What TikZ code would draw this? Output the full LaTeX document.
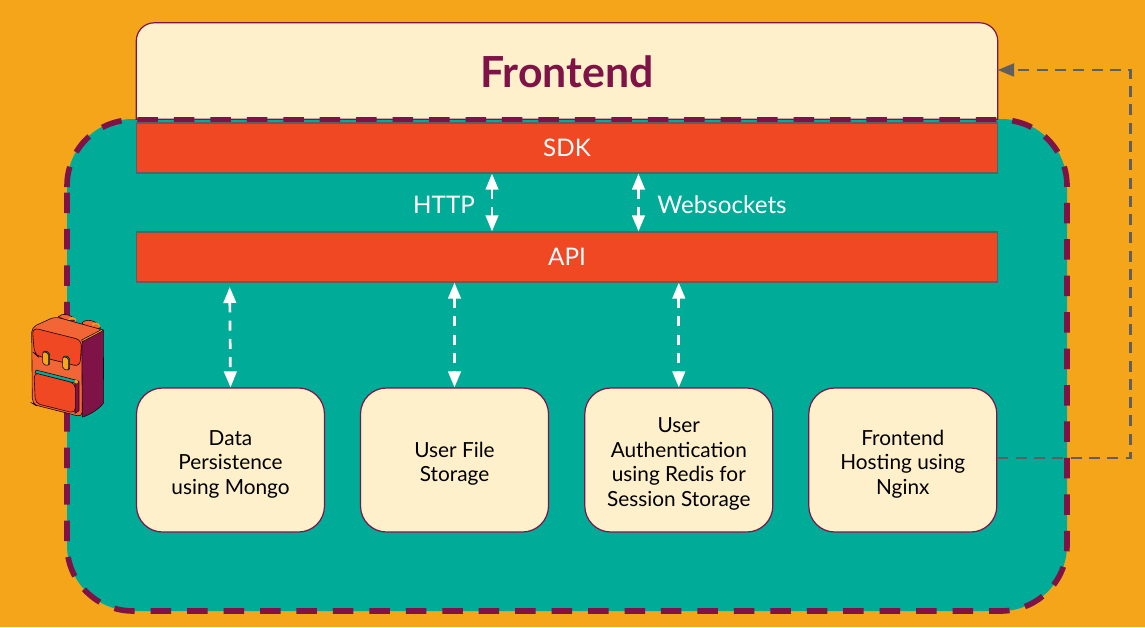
\documentclass[tikz,border=0pt]{standalone}
\usepackage{fontspec}
\setmainfont{Lato}
\usetikzlibrary{arrows.meta,calc}
\definecolor{bgorange}{HTML}{F5A51A}
\definecolor{teal1}{HTML}{00AB97}
\definecolor{cream}{HTML}{FFF0CC}
\definecolor{red1}{HTML}{F04822}
\definecolor{plum}{HTML}{7F1246}
\definecolor{slate}{HTML}{5F5F5F}
\definecolor{packorange}{HTML}{F26535}
\newcommand{\toppad}{\rule{0pt}{23pt}}
\tikzset{
  svc/.style={draw=plum,line width=1.2pt,fill=cream,rounded corners=26pt,minimum width=188pt,minimum height=144pt,inner sep=0pt,align=center,text=black,font=\fontsize{20.8}{24.5}\selectfont},
  band/.style={draw=slate,line width=1.2pt,fill=red1,minimum width=861pt,minimum height=50pt,inner sep=0pt,text=white,font=\fontsize{24.2}{28}\selectfont},
  lbl/.style={text=white,inner sep=0pt,font=\fontsize{24.2}{28}\selectfont},
  biarrow/.style={draw=white,line width=2.7pt,dash pattern=on 10pt off 8.3pt,{Triangle[length=16pt,width=12.5pt,fill=white]}-{Triangle[length=16pt,width=12.5pt,fill=white]}},
  hostlink/.style={draw=slate,line width=2.4pt,dash pattern=on 11pt off 7.3pt,-{Triangle[length=16.5pt,width=13pt,fill=slate]}},
  pack/.style={draw=black!75!plum,line width=.6pt,line join=round}
}
\begin{document}
\begin{tikzpicture}[x=1pt,y=-1pt]
\fill[bgorange] (0,0) rectangle (1145,627);
\useasboundingbox (0,0) rectangle (1145,627);
% backpack container
\fill[teal1,rounded corners=66pt] (67,119) rectangle (1067,611);
% frontend
\node[minimum width=861pt,minimum height=96pt,inner sep=0pt] (frontend) at (567,71) {};
\draw[draw=plum,line width=1.2pt,fill=cream]
  (frontend.south west) [rounded corners=18pt] -- (frontend.north west) -- (frontend.north east) [sharp corners] -- (frontend.south east) -- cycle;
\node[text=plum,inner sep=0pt,font=\fontsize{42.8}{48}\selectfont\bfseries] (frontendlabel) at (567,72) {Frontend};
\draw[plum,line width=5.6pt,dash pattern=on 20.5pt off 15.95pt,rounded corners=66pt]
  (67,187) -- (67,119.8) -- (1067,119.8) -- (1067,611) -- (67,611) -- (67,187);
% bands
\node[band] (sdk) at (567,148) {\raisebox{-1pt}{SDK}};
\node[band] (api) at (567,257) {\raisebox{-1pt}{API}};
\node[lbl] (http) at (444,204.8) {HTTP};
\node[lbl] (ws) at (722,204.8) {Websockets};
% services
\node[svc] (mongo) at (230.5,460) {\toppad Data\\Persistence\\using Mongo};
\node[svc] (files) at (454.5,460) {\toppad User File\\Storage};
\node[svc] (auth) at (678.8,460) {\toppad User\\Authentication\\using Redis for\\Session Storage};
\node[svc] (host) at (902.8,460) {\toppad Frontend\\Hosting using\\Nginx};
% connectors
\coordinate (corner1) at (1130.5,458);
\coordinate (corner2) at (1130.5,70);
\draw[hostlink] ([yshift=2pt]host.east) -- (corner1) -- (corner2) -- ([yshift=1pt]frontend.east);
\draw[biarrow] (sdk.south -| 492,0) -- (api.north -| 492,0);
\draw[biarrow] (sdk.south -| 638.5,0) -- (api.north -| 638.5,0);
\coordinate (apiA) at (229.7,287);
\draw[biarrow] (apiA) -- (mongo.north);
\draw[biarrow] (api.south -| files.north) -- (files.north);
\draw[biarrow] (api.south -| auth.north) -- (auth.north);
% backpack icon
\begin{scope}[shift={(0,290)},x=0.3333pt,y=-0.3333pt]
 % straps
 \fill[packorange,pack] (175,80) .. controls (185,68) and (215,72) .. (228,92) -- (200,92) -- cycle;
 \fill[packorange,pack] (245,100) .. controls (255,85) and (290,88) .. (302,115) -- (270,115) -- cycle;
 \draw[bgorange,line width=1.4pt] (207,90) .. controls (210,80) and (225,82) .. (228,92);
 \draw[bgorange,line width=1.4pt] (278,106) .. controls (281,96) and (296,98) .. (299,110);
 % side
 \fill[plum,pack] (245,150) -- (310,120) -- (311,338) .. controls (300,355) and (270,375) .. (247,381) -- cycle;
 % top + front
 \fill[packorange,pack,rounded corners=5pt] (95,112) -- (165,80) -- (310,120) -- (245,150) -- (247,381) -- (105,345) -- (97,340) -- cycle;
 % yellow edge
 \fill[bgorange,pack] (245,150) -- (306,118) -- (310,122) -- (247,155) -- cycle;
 % flap
 \fill[red1,pack,rounded corners=6pt] (97,113) -- (245,150) -- (240,230) -- (112,198) -- (103,190) -- cycle;
 % buckles
 \fill[teal1,pack,rounded corners=2pt] (130,182) -- (149,187) -- (149,226) -- (130,222) -- cycle;
 \fill[bgorange,pack,rounded corners=2pt] (128,185) -- (146,189) -- (146,227) -- (128,223) -- cycle;
 \fill[teal1,pack,rounded corners=2pt] (190,197) -- (209,201) -- (209,240) -- (190,236) -- cycle;
 \fill[bgorange,pack,rounded corners=2pt] (188,200) -- (206,204) -- (206,241) -- (188,237) -- cycle;
 % lower pocket
 \fill[plum,pack] (225,272) -- (237,275) -- (237,362) -- (225,370) -- cycle;
 \fill[red1,pack,rounded corners=5pt] (102,247) -- (226,280) -- (226,370) -- (106,340) -- cycle;
 \fill[teal1,pack] (108,240) -- (235,272) -- (232,281) -- (105,249) -- cycle;
 \fill[bgorange] (225,270) -- (235,272) -- (232,281) -- (224,279) -- cycle;
\end{scope}
\end{tikzpicture}
\end{document}
